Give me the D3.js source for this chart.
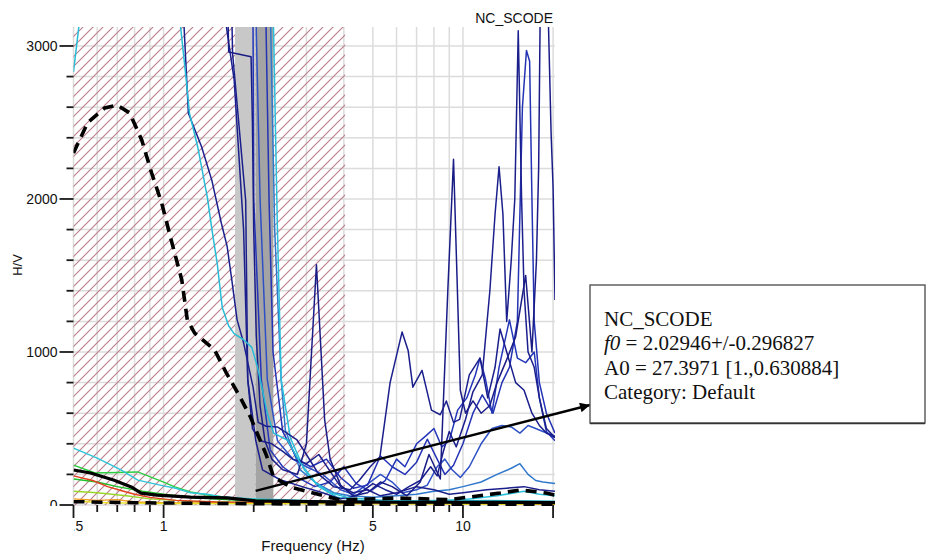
<!DOCTYPE html>
<html>
<head>
<meta charset="utf-8">
<script src="https://cdn.jsdelivr.net/npm/d3@7"></script>
<style>
  html, body { margin: 0; padding: 0; background: #ffffff; }
  svg { display: block; }
</style>
</head>
<body>
<svg id="chart" width="930" height="560"></svg>
<script>
// ---- Station / peak summary -------------------------------------------
const stationName = "NC_SCODE";
const f0 = 2.02946;
const f0Std = 0.296827;
const A0 = 27.3971;
const A0Range = "[1.,0.630884]";
const category = "Default";

// ---- Axes ---------------------------------------------------------------
const freqDomain = [0.5, 20.3];
const hvDomain = [0, 3124];
const xMajorTicks = [0.5, 1, 5, 10, 20];
const xLabelTicks = [0.5, 1, 5, 10];
const xMinorTicks = [0.6, 0.7, 0.8, 0.9, 2, 3, 4, 6, 7, 8, 9];
const yMajorTicks = [0, 1000, 2000, 3000];
const yMinorTicks = [200, 400, 600, 800, 1200, 1400, 1600, 1800, 2200, 2400, 2600, 2800];
const yGridTicks = [0, 200, 400, 600, 800, 1000, 1200, 1400, 1600, 1800, 2000, 2200, 2400, 2600, 2800, 3000];

// Frequency range excluded from the peak search (hatched)
const rejectedBand = [0.5, 4.04];

// ---- Individual window H/V curves: [frequency Hz, H/V] ------------------
const winA = [[0.5,2830],[0.53,3250],[0.6,4200],[1.05,4200],[1.14,3120],[1.19,2780],[1.22,2560],[1.3,2340],[1.4,2010],[1.45,1800],[1.51,1580],[1.57,1290],[1.65,1170],[1.72,1120],[1.85,1080],[1.97,1030],[2.06,900],[2.14,750],[2.22,600],[2.33,470],[2.59,425],[2.85,280],[3.2,150],[3.6,80],[4.2,45],[5.5,30],[8,25],[12,30],[20.3,25]];
const winB = [[0.5,4200],[1.1,4200],[1.17,3130],[1.21,2560],[1.34,2340],[1.45,2120],[1.56,1840],[1.63,1690],[1.69,1470],[1.76,1210],[1.85,1060],[1.99,770],[2.07,540],[2.2,515],[2.4,510],[2.79,425],[3.0,330],[3.3,200],[3.7,120],[4.2,100],[4.5,160],[4.9,250],[5.28,315],[5.71,800],[6.26,1130],[6.56,1010],[6.8,770],[7.3,880],[7.85,620],[8.4,590],[8.8,680],[9.3,540],[9.75,560],[10.5,850],[11.4,960],[12.1,700],[12.8,900],[13.3,1150],[14,1000],[15,800],[16,750],[17,600],[18,520],[19,470],[20.3,440]];
const winC = [[0.5,4200],[1.6,4200],[1.64,3200],[1.65,2960],[1.96,2930],[1.98,2500],[2.0,1800],[2.04,1100],[2.1,650],[2.18,420],[2.3,300],[2.5,230],[2.8,200],[3.0,400],[3.24,1570],[3.45,560],[3.6,300],[3.9,130],[4.3,60],[4.8,80],[5.3,150],[5.8,120],[6.5,60],[7.2,150],[7.7,330],[8.4,170],[8.9,1400],[9.3,2260],[9.55,1500],[9.8,750],[10.2,600],[10.8,680],[11.5,600],[12.3,650],[13,800],[14,950],[15,1100],[16.2,1500],[17.0,1000],[17.6,1600],[17.9,2200],[18.1,3150],[18.6,3600],[19.3,3150],[19.7,2430],[20.0,2080],[20.3,1340]];
const winD = [[0.5,4200],[1.65,4200],[1.70,2950],[1.88,1990],[1.91,820],[2.03,425],[2.14,230],[2.45,165],[2.9,120],[3.4,80],[3.9,40],[4.4,60],[5.0,140],[5.5,100],[6.0,70],[6.6,120],[7.2,160],[7.8,250],[8.2,190],[8.6,350],[9.0,480],[9.5,380],[10.2,560],[10.8,740],[11.6,850],[12.3,1400],[12.8,1900],[13.2,2210],[13.6,1900],[14.0,1200],[14.5,1600],[14.9,2000],[15.3,3100],[15.7,2000],[16.0,1400],[16.5,1000],[17.3,900],[18,700],[19,500],[20.3,440]];
const winE = [[0.5,4200],[1.95,4200],[1.99,3100],[2.0,2000],[2.12,820],[2.27,360],[2.5,250],[2.8,180],[3.2,120],[3.6,150],[4.0,250],[4.4,140],[4.9,90],[5.5,160],[6.0,300],[6.4,250],[7.0,400],[7.5,450],[8.0,500],[8.5,380],[9.0,420],[9.6,620],[10.3,700],[11.0,850],[11.4,960],[11.9,820],[12.5,600],[13.2,900],[14.3,1210],[15.2,960],[16.2,930],[17.3,1000],[18.0,700],[19,480],[20.3,420]];
const winF = [[0.5,4200],[2.0,4200],[2.04,3100],[2.1,2000],[2.22,820],[2.4,420],[2.7,300],[3.0,250],[3.4,200],[3.9,100],[4.3,70],[4.9,150],[5.3,200],[5.8,150],[6.3,80],[7.0,100],[7.6,130],[8.2,250],[8.7,300],[9.2,230],[9.8,180],[10.5,250],[11.5,400],[12.5,500],[13.5,520],[14.5,510],[15.5,470],[16.5,520],[17.5,500],[18.5,480],[20.3,450]];
const winG = [[0.5,4200],[2.25,4200],[2.28,3100],[2.35,1800],[2.47,820],[2.55,490],[2.86,230],[3.2,150],[3.7,80],[4.2,60],[5.0,50],[6.0,60],[7.0,70],[8.0,90],[9.0,100],[10.0,120],[11.5,150],[13,200],[14.5,240],[15.5,270],[16.5,200],[17.5,160],[18.5,150],[20.3,140]];
const winH = [[0.5,4200],[2.3,4200],[2.33,3100],[2.4,1800],[2.47,820],[2.65,440],[2.95,230],[3.3,120],[3.8,50],[4.5,30],[6,25],[8,30],[10,35],[13,60],[16,90],[18,70],[20.3,60]];
const winI = [[0.5,4200],[2.15,4200],[2.2,3100],[2.25,2000],[2.32,1000],[2.5,480],[2.8,300],[3.1,250],[3.5,300],[3.9,180],[4.3,110],[4.8,130],[5.3,320],[5.8,250],[6.4,200],[7.0,280],[7.6,430],[8.2,300],[8.7,200],[9.3,260],[10,400],[10.8,600],[11.6,720],[12.6,600],[13.5,800],[14.3,900],[15.2,1200],[15.8,2600],[16.3,2970],[16.7,2900],[17.0,2000],[17.3,1200],[18,800],[19,600],[20.3,470]];
const winJ = [[0.5,4200],[1.55,4200],[1.6,3200],[1.72,2780],[1.85,1800],[1.91,820],[1.98,500],[2.1,420],[2.3,400],[2.5,350],[2.7,300],[3.0,270],[3.3,330],[3.6,220],[3.9,120],[4.3,80],[4.8,100],[5.3,60],[6,80],[7,120],[8,100],[9,70],[10,80],[12,100],[14,110],[16,120],[18,100],[20.3,90]];
const winK = [[0.5,372],[0.6,307],[0.72,229],[0.82,163],[1.0,125],[1.09,111],[1.23,80],[1.4,70],[1.55,55],[1.72,48],[2.0,40],[2.5,35],[3.5,25],[5,20],[8,18],[12,22],[20.3,20]];
const winL = [[0.5,261],[0.59,209],[0.7,212],[0.82,216],[1.0,150],[1.09,118],[1.23,85],[1.4,65],[1.8,40],[2.5,30],[4,20],[8,15],[20.3,15]];
const winM = [[0.5,170],[0.6,150],[0.7,120],[0.85,90],[1.0,70],[1.3,45],[1.8,30],[3,15],[20.3,10]];
const winN = [[0.5,90],[0.6,80],[0.75,60],[0.9,40],[1.2,25],[2,15],[20.3,8]];
const winO = [[0.5,190],[0.58,160],[0.65,120],[0.72,95],[0.8,70],[0.9,50],[1.1,30],[1.5,20],[20.3,10]];
const winP = [[0.5,40],[0.6,30],[0.7,35],[0.8,20],[1.0,15],[20.3,5]];
const winQ = [[0.5,25],[0.65,15],[0.8,12],[1.0,10],[20.3,5]];

// ---- Average curve and its standard-deviation envelope -----------------
const hvMean = [[0.5,229],[0.57,209],[0.68,163],[0.78,118],[0.84,78],[0.95,65],[1.23,52],[1.63,46],[2.03,27.4],[2.5,25],[3,22],[4,20],[6,18],[10,18],[15,17],[20.3,15]];
const hvUpper = [[0.5,2300],[0.558,2500],[0.636,2595],[0.70,2614],[0.77,2562],[0.845,2386],[0.912,2170],[0.985,1974],[1.06,1732],[1.15,1471],[1.2,1209],[1.27,1124],[1.48,1013],[1.62,863],[1.8,706],[1.95,575],[2.1,425],[2.2,330],[2.33,183],[2.65,118],[3.16,78],[3.9,33],[4.8,39],[6,46],[7.8,39],[9,35],[10.5,52],[13.3,78],[15.5,98],[17,90],[19,78],[20.3,64]];
const hvLower = [[0.5,22],[0.8,15],[1.5,10],[3,6],[8,5],[20.3,5]];

const lowWindows = [
  { data: winM, color: "#22c02a" },
  { data: winN, color: "#9ad62a" },
  { data: winP, color: "#f09a20" },
  { data: winQ, color: "#e6e020" },
  { data: winO, color: "#e0401e" },
  { data: winL, color: "#2ecc40" },
  { data: winK, color: "#2fc4d8" }
];
const highWindows = [
  { data: winG, color: "#2f78cc" },
  { data: winH, color: "#2bc0da" },
  { data: winF, color: "#2e50c6" },
  { data: winI, color: "#2432b4" },
  { data: winE, color: "#2335b8" },
  { data: winJ, color: "#1b1f8c" },
  { data: winD, color: "#1b1f8c" },
  { data: winC, color: "#1a1c86" },
  { data: winB, color: "#1b1f8c" },
  { data: winA, color: "#27bcd6" }
];

// ---- Layout -------------------------------------------------------------
const plot = { left: 73.5, right: 555, top: 27, bottom: 505 };
const x = d3.scaleLog().domain(freqDomain).range([plot.left, plot.right]);
const y = d3.scaleLinear().domain(hvDomain).range([plot.bottom, plot.top]);

const svg = d3.select("#chart");
const defs = svg.append("defs");

defs.append("clipPath").attr("id", "plotClip")
  .append("rect")
  .attr("x", plot.left).attr("y", plot.top)
  .attr("width", plot.right - plot.left).attr("height", plot.bottom - plot.top + 2);

defs.append("clipPath").attr("id", "yLabelClip")
  .append("rect").attr("x", 0).attr("y", 0).attr("width", plot.left).attr("height", plot.bottom + 1);

defs.append("clipPath").attr("id", "xLabelClip")
  .append("rect").attr("x", plot.left + 0.5).attr("y", plot.bottom).attr("width", 500).attr("height", 60);

const hatch = defs.append("pattern")
  .attr("id", "hatch")
  .attr("patternUnits", "userSpaceOnUse")
  .attr("width", 10).attr("height", 10);
hatch.append("path")
  .attr("d", "M-1,1 l2,-2 M0,10 l10,-10 M9,11 l2,-2")
  .attr("stroke", "#bc7f8e")
  .attr("stroke-width", 1.15);

defs.append("marker")
  .attr("id", "arrowHead")
  .attr("viewBox", "0 0 10 10")
  .attr("refX", 10).attr("refY", 5)
  .attr("markerUnits", "userSpaceOnUse")
  .attr("markerWidth", 13).attr("markerHeight", 10)
  .attr("orient", "auto")
  .append("path").attr("d", "M0,0 L10,5 L0,10 z").attr("fill", "#000");

// ---- Grid -----------------------------------------------------------------
const grid = svg.append("g").attr("stroke", "#dcdcdc").attr("stroke-width", 1.5);
grid.selectAll("line.v").data(xMajorTicks.concat(xMinorTicks)).join("line")
  .attr("x1", d => x(d)).attr("x2", d => x(d))
  .attr("y1", plot.top).attr("y2", plot.bottom);
grid.selectAll("line.h").data(yGridTicks).join("line")
  .attr("x1", plot.left).attr("x2", plot.right)
  .attr("y1", d => y(d)).attr("y2", d => y(d));

// ---- Rejected frequency band and f0 deviation band -------------------------
svg.append("rect")
  .attr("x", x(rejectedBand[0])).attr("y", plot.top)
  .attr("width", x(rejectedBand[1]) - x(rejectedBand[0]))
  .attr("height", plot.bottom - plot.top)
  .attr("fill", "url(#hatch)");

svg.append("rect")
  .attr("x", x(f0 - f0Std)).attr("y", plot.top)
  .attr("width", x(f0) - x(f0 - f0Std)).attr("height", plot.bottom - plot.top)
  .attr("fill", "#c8c8c8");
svg.append("rect")
  .attr("x", x(f0)).attr("y", plot.top)
  .attr("width", x(f0 + f0Std) - x(f0)).attr("height", plot.bottom - plot.top)
  .attr("fill", "#a4a4a4");

// ---- Curves -----------------------------------------------------------------
const line = d3.line().x(d => x(d[0])).y(d => y(d[1]));
const curves = svg.append("g").attr("clip-path", "url(#plotClip)").attr("fill", "none");

curves.selectAll("path.low").data(lowWindows).join("path")
  .attr("d", d => line(d.data))
  .attr("stroke", d => d.color)
  .attr("stroke-width", 1.4);

curves.selectAll("path.high").data(highWindows).join("path")
  .attr("d", d => line(d.data))
  .attr("stroke", d => d.color)
  .attr("stroke-width", 1.5)
  .attr("stroke-linejoin", "round");

curves.append("path").attr("d", line(hvLower))
  .attr("stroke", "#000").attr("stroke-width", 3.5).attr("stroke-dasharray", "11,7");
curves.append("path").attr("d", line(hvMean))
  .attr("stroke", "#000").attr("stroke-width", 3.2).attr("stroke-linejoin", "round");
curves.append("path").attr("d", line(hvUpper))
  .attr("stroke", "#000").attr("stroke-width", 3.6).attr("stroke-dasharray", "11,7");

// ---- Axes ---------------------------------------------------------------------
const tickColor = "#1a1a1a";
const axisFont = "'Liberation Sans', Arial, sans-serif";

const yAxis = svg.append("g").attr("stroke", tickColor).attr("stroke-width", 1.8);
yAxis.selectAll("line.maj").data(yMajorTicks).join("line")
  .attr("x1", plot.left - 14).attr("x2", plot.left)
  .attr("y1", d => y(d)).attr("y2", d => y(d));
yAxis.selectAll("line.min").data(yMinorTicks).join("line")
  .attr("x1", plot.left - 7).attr("x2", plot.left)
  .attr("y1", d => y(d)).attr("y2", d => y(d));

svg.append("g").attr("clip-path", "url(#yLabelClip)")
  .selectAll("text").data(yMajorTicks).join("text")
  .attr("x", plot.left - 16).attr("y", d => y(d))
  .attr("dy", "0.36em")
  .attr("text-anchor", "end")
  .attr("font-family", axisFont).attr("font-size", 14).attr("fill", "#111")
  .text(d => d);

const xAxis = svg.append("g").attr("stroke", tickColor).attr("stroke-width", 1.8);
xAxis.selectAll("line.maj").data(xMajorTicks).join("line")
  .attr("x1", d => x(d)).attr("x2", d => x(d))
  .attr("y1", plot.bottom).attr("y2", plot.bottom + 13);
xAxis.selectAll("line.min").data(xMinorTicks).join("line")
  .attr("x1", d => x(d)).attr("x2", d => x(d))
  .attr("y1", plot.bottom).attr("y2", plot.bottom + 7);

svg.append("g").attr("clip-path", "url(#xLabelClip)")
  .selectAll("text").data(xLabelTicks).join("text")
  .attr("x", d => x(d)).attr("y", plot.bottom + 26)
  .attr("text-anchor", "middle")
  .attr("font-family", axisFont).attr("font-size", 14).attr("fill", "#111")
  .text(d => d);

svg.append("text")
  .attr("x", 313).attr("y", 551)
  .attr("text-anchor", "middle")
  .attr("font-family", axisFont).attr("font-size", 15).attr("fill", "#111")
  .text("Frequency (Hz)");

svg.append("text")
  .attr("transform", "translate(22,265) rotate(-90)")
  .attr("text-anchor", "middle")
  .attr("font-family", axisFont).attr("font-size", 13).attr("fill", "#111")
  .text("H/V");

svg.append("text")
  .attr("x", 553).attr("y", 23)
  .attr("text-anchor", "end")
  .attr("font-family", axisFont).attr("font-size", 14).attr("fill", "#111")
  .text(stationName);

// ---- Peak annotation ------------------------------------------------------------
const box = { x: 590, y: 285, w: 335, h: 138 };

svg.append("line")
  .attr("x1", x(f0)).attr("y1", y(A0) - 10)
  .attr("x2", box.x).attr("y2", 405)
  .attr("stroke", "#000").attr("stroke-width", 2.4)
  .attr("marker-end", "url(#arrowHead)");

svg.append("rect")
  .attr("x", box.x).attr("y", box.y).attr("width", box.w).attr("height", box.h)
  .attr("fill", "#fff").attr("stroke", "#555").attr("stroke-width", 1.4);
svg.append("line")
  .attr("x1", box.x).attr("x2", box.x + box.w)
  .attr("y1", box.y + box.h + 0.5).attr("y2", box.y + box.h + 0.5)
  .attr("stroke", "#333").attr("stroke-width", 1.6);

const serif = "'Liberation Serif', 'Times New Roman', serif";
const info = svg.append("g")
  .attr("font-family", serif).attr("font-size", 21).attr("fill", "#111");

info.append("text").attr("x", 604).attr("y", 326).text(stationName);
const f0Line = info.append("text").attr("x", 604).attr("y", 350);
f0Line.append("tspan").attr("font-style", "italic").text("f0");
f0Line.append("tspan").text(" = " + f0 + "+/-" + f0Std);
info.append("text").attr("x", 604).attr("y", 375).text("A0 = " + A0 + " " + A0Range);
info.append("text").attr("x", 604).attr("y", 399).text("Category: " + category);
</script>
</body>
</html>
